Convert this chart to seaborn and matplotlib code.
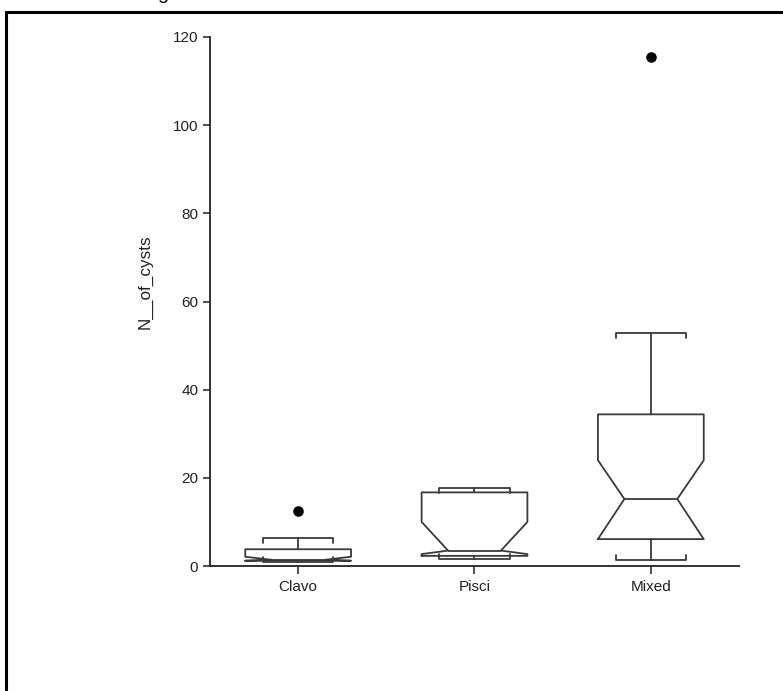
import matplotlib
matplotlib.use("Agg")
import matplotlib.pyplot as plt
from matplotlib.lines import Line2D
import seaborn as sns

# Groups and their box summaries (percentile whiskers, quartiles, median, notch limits)
categories = ["Clavo", "Pisci", "Mixed"]
whisker_low = [1.0, 1.6, 1.4]
quartile_1 = [1.2, 2.3, 6.1]
notch_low = [1.2, 2.7, 6.1]
medians = [1.4, 3.5, 15.2]
notch_high = [2.1, 10.0, 24.0]
quartile_3 = [3.8, 16.7, 34.4]
whisker_high = [6.3, 17.6, 52.8]

# Points beyond the whiskers
outlier_group = ["Clavo", "Mixed"]
outlier_value = [12.4, 115.4]

y_ticks = [0, 20, 40, 60, 80, 100, 120]
y_label = "N__of_cysts"

sns.set_style("ticks")
plt.rcParams["font.family"] = ["Liberation Sans", "DejaVu Sans"]

W, H = 783, 691
fig = plt.figure(figsize=(W / 100, H / 100), dpi=100)
fig.patch.set_facecolor("white")
ax = fig.add_axes([210 / W, 125 / H, 529 / W, 529 / H])

line_col = "#3a3a3a"
stats = []
for i, name in enumerate(categories):
    stats.append(dict(label=name, whislo=whisker_low[i], q1=quartile_1[i],
                      cilo=notch_low[i], med=medians[i], cihi=notch_high[i],
                      q3=quartile_3[i], whishi=whisker_high[i], fliers=[]))

lw = 1.3
arts = ax.bxp(stats, positions=range(len(categories)), widths=0.6, capwidths=0.4,
              shownotches=True, showfliers=False, manage_ticks=False,
              boxprops=dict(color=line_col, linewidth=lw),
              medianprops=dict(color=line_col, linewidth=lw),
              whiskerprops=dict(color=line_col, linewidth=lw),
              capprops=dict(color=line_col, linewidth=lw))

# Caps get short end ticks pointing back toward the box
tick_len = 1.05
for k, cap in enumerate(arts["caps"]):
    xs = cap.get_xdata()
    y = cap.get_ydata()[0]
    d = tick_len if k % 2 == 0 else -tick_len
    cap.set_data([xs[0], xs[0], xs[1], xs[1]], [y + d, y, y, y + d])

sns.stripplot(x=outlier_group, y=outlier_value, order=categories, jitter=False,
              color="black", size=7.6, linewidth=0, ax=ax, zorder=5)

ax.set_xlim(-0.5, len(categories) - 0.5)
ax.set_ylim(0, 120)
ax.set_yticks(y_ticks)
ax.set_xticks(range(len(categories)))
ax.set_xticklabels(categories)
ax.set_xlabel("")
ax.set_ylabel(y_label, fontsize=12.3, color="#222222")
ax.yaxis.set_label_coords(-0.108, 0.537)

sns.despine(ax=ax)
for s in ("left", "bottom"):
    ax.spines[s].set_linewidth(1.3)
    ax.spines[s].set_color("#222222")
ax.tick_params(axis="both", labelsize=11, colors="#222222", width=1.1)
ax.tick_params(axis="y", length=5, pad=3.5)
ax.tick_params(axis="x", length=6, pad=4)

# Outer frame around the figure
fig.add_artist(Line2D([6 / W, 6 / W], [0, 1 - 12 / H], transform=fig.transFigure,
                      color="black", linewidth=2.2))
fig.add_artist(Line2D([6 / W, 1], [1 - 12 / H, 1 - 12 / H], transform=fig.transFigure,
                      color="black", linewidth=2.2))
# Tail of a heading that runs off the top edge
fig.text(157 / W, 1 + 1 / H, "g", fontsize=14, va="baseline", ha="left", color="black")

fig.savefig("out.png", dpi=100)
